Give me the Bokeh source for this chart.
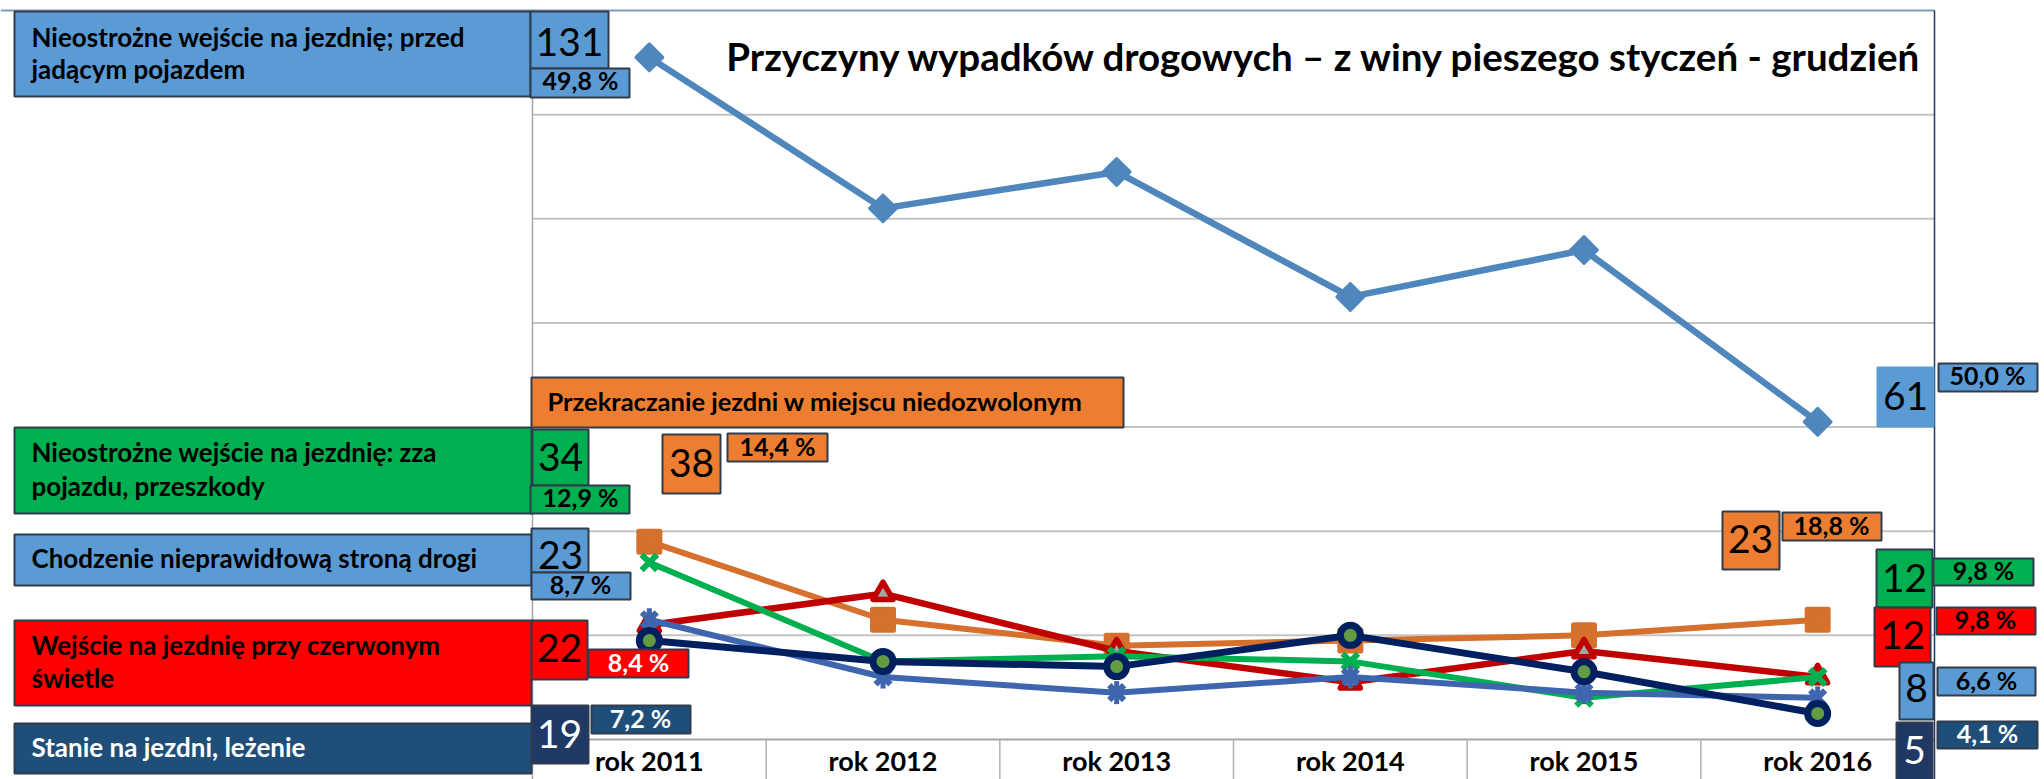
import numpy as np
from bokeh.plotting import figure
from bokeh.models import Range1d, ColumnDataSource
from bokeh.core.properties import value
from bokeh.embed import file_html
from bokeh.resources import INLINE

# ---------------- data ----------------
years = ["rok 2011", "rok 2012", "rok 2013", "rok 2014", "rok 2015", "rok 2016"]
przed_pojazdem = [131, 102, 109, 85, 94, 61]
niedozwolone = [38, 23, 18, 19, 20, 23]
zza_pojazdu = [34, 15, 16, 15, 8, 12]
zla_strona = [23, 12, 9, 12, 9, 8]
czerwone = [22, 28, 17, 11, 17, 12]
stanie = [19, 15, 14, 20, 13, 5]

share_2011 = ["49,8 %", "14,4 %", "12,9 %", "8,7 %", "8,4 %", "7,2 %"]
share_2016 = ["50,0 %", "18,8 %", "9,8 %", "6,6 %", "9,8 %", "4,1 %"]

names = [
    ["Nieostrożne wejście na jezdnię; przed", "jadącym  pojazdem"],
    ["Przekraczanie jezdni w miejscu niedozwolonym"],
    ["Nieostrożne wejście na jezdnię: zza", "pojazdu, przeszkody"],
    ["Chodzenie nieprawidłową stroną drogi"],
    ["Wejście na jezdnię przy czerwonym", "świetle"],
    ["Stanie na jezdni, leżenie"],
]
title_text = "Przyczyny wypadków drogowych – z winy pieszego styczeń - grudzień"
y_ticks = [0, 20, 40, 60, 80, 100, 120, 140]

# ---------------- geometry ----------------
W, H = 2044, 779
PL, PR, PT, PB = 532.0, 1934.0, 10.0, 739.0
YMAX = 140
CW = (PR - PL) / len(years)
KY = (PB - PT) / YMAX
BASE_SHIFT = 0.42   # renderer places the alphabetic baseline ~0.42em lower


def X(px):
    return (px - PL) / CW - 0.5


def Y(py):
    return (PB - py) / KY


def YB(baseline, size):
    return Y(baseline - BASE_SHIFT * size)


FONT = value("Lato")

p = figure(width=W, height=H, x_range=Range1d(X(0), X(W)), y_range=Range1d(Y(H), Y(0)),
           output_backend="svg", toolbar_location=None, min_border=0,
           x_axis_location=None, y_axis_location=None)
p.title.visible = False
p.xgrid.visible = False
p.ygrid.visible = False
p.outline_line_color = None
p.background_fill_color = "white"
p.border_fill_color = "white"

xs = list(range(len(years)))

# ---------------- grid / frame ----------------
grid_vals = [t for t in y_ticks if 0 < t < YMAX]
p.segment(x0=[X(PL)] * len(grid_vals), x1=[X(PR)] * len(grid_vals), y0=grid_vals, y1=grid_vals,
          line_color="#C4C4C4", line_width=2)
p.segment(x0=[X(PL)], x1=[X(PR)], y0=[0], y1=[0], line_color="#A6A6A6", line_width=2)
p.segment(x0=[X(0)], x1=[X(PR)], y0=[YMAX], y1=[YMAX], line_color="#7E9BBA", line_width=2)
seps = [i + 0.5 for i in range(len(years) - 1)]
p.segment(x0=seps, x1=seps, y0=[0] * len(seps), y1=[Y(H)] * len(seps), line_color="#B0B0B0", line_width=1.5)
p.segment(x0=[-0.5], x1=[-0.5], y0=[YMAX], y1=[Y(H)], line_color="#A6A6A6", line_width=1.5)
p.segment(x0=[len(years) - 0.5], x1=[len(years) - 0.5], y0=[YMAX], y1=[Y(H)], line_color="#1F3864", line_width=1.5)

# category labels
CAT_SIZE = 27
p.text(x=xs, y=[YB(771, CAT_SIZE)] * len(xs), text=years, text_font=FONT, text_font_style="bold",
       text_font_size="%dpx" % CAT_SIZE, text_color="#000000", text_align="center", text_baseline="alphabetic")

# ---------------- series ----------------
p.line(xs, przed_pojazdem, line_color="#4F87BD", line_width=6.5)
p.scatter(xs, przed_pojazdem, marker="square", angle=np.pi / 4, size=19, fill_color="#4F87BD",
          line_color="#4F87BD", line_width=3, line_join="round")

p.line(xs, niedozwolone, line_color="#D5702D", line_width=6)
p.scatter(xs, niedozwolone, marker="square", size=21, fill_color="#D5702D",
          line_color="#D5702D", line_width=5, line_join="round")

p.line(xs, czerwone, line_color="#C00000", line_width=6.5)
p.scatter(xs, czerwone, marker="triangle", size=20, fill_color="#A5A5A5",
          line_color="#C00000", line_width=5.5, line_join="round")

p.line(xs, zza_pojazdu, line_color="#00B050", line_width=6)
p.scatter(xs, zza_pojazdu, marker="x", size=22, line_color="#00B050", line_width=6)

p.line(xs, zla_strona, line_color="#3F65AE", line_width=6)
p.scatter(xs, zla_strona, marker="x", size=21, line_color="#3F65AE", line_width=6)
p.scatter(xs, zla_strona, marker="dash", angle=np.pi / 2, size=23, line_color="#3F65AE", line_width=5)

p.line(xs, stanie, line_color="#002060", line_width=7)
p.scatter(xs, stanie, marker="circle", size=20, fill_color="#629B41", line_color="#002060", line_width=7)

# ---------------- boxes ----------------
BLUE, ORANGE, GREEN, RED, NAVY, DNAVY = "#5B9BD5", "#ED7D31", "#00B050", "#FF0000", "#1F4E79", "#203864"
EDGE = "#303C4C"

# (left, top, right, bottom, fill, bordered) in page pixels
boxes = [
    (14, 11, 530, 96, BLUE, True),
    (530, 11, 608, 68, BLUE, True),
    (530, 68, 629, 97, BLUE, True),
    (531, 377, 1123, 427, ORANGE, True),
    (662, 434, 720, 493, ORANGE, True),
    (727, 433, 827, 461, ORANGE, True),
    (14, 427, 531, 513, GREEN, True),
    (532, 429, 588, 485, GREEN, True),
    (530, 485, 629, 513, GREEN, True),
    (14, 534, 531, 585, BLUE, True),
    (531, 528, 588, 572, BLUE, True),
    (531, 572, 630, 599, BLUE, True),
    (14, 620, 531, 705, RED, True),
    (531, 620, 587, 679, RED, True),
    (588, 649, 688, 677, RED, True),
    (14, 723, 531, 773, NAVY, True),
    (531, 705, 588, 763, DNAVY, True),
    (591, 705, 690, 733, NAVY, True),
    (1877, 367, 1933, 426, BLUE, False),
    (1938, 363, 2037, 391, BLUE, True),
    (1722, 511, 1779, 569, ORANGE, True),
    (1782, 512, 1881, 540, ORANGE, True),
    (1876, 549, 1932, 607, GREEN, True),
    (1933, 558, 2033, 585, GREEN, True),
    (1874, 607, 1930, 666, RED, True),
    (1936, 607, 2035, 634, RED, True),
    (1899, 662, 1933, 719, BLUE, True),
    (1937, 667, 2035, 695, BLUE, True),
    (1896, 722, 1932, 782, DNAVY, True),
    (1937, 721, 2037, 748, NAVY, True),
]
bsrc = ColumnDataSource(dict(
    left=[X(b[0]) for b in boxes], right=[X(b[2]) for b in boxes],
    top=[Y(b[1]) for b in boxes], bottom=[Y(b[3]) for b in boxes],
    fill=[b[4] for b in boxes],
    edge=[EDGE if b[5] else b[4] for b in boxes],
))
p.quad(left="left", right="right", top="top", bottom="bottom", fill_color="fill",
       line_color="edge", line_width=2, source=bsrc)

# ---------------- texts ----------------
series = [przed_pojazdem, niedozwolone, zza_pojazdu, zla_strona, czerwone, stanie]
first_num = [str(s[0]) for s in series]
last_num = [str(s[-1]) for s in series]

LBL, NUM, PCT, HDR = 26, 39, 25, 25.5

# (x, baseline y, text, size, bold, color, align)
texts = [
    (31, 47, names[0][0], LBL, True, "black", "left"),
    (31, 79, names[0][1], LBL, True, "black", "left"),
    (569, 58, first_num[0], NUM, False, "black", "center"),
    (580, 90, share_2011[0], PCT, True, "black", "center"),
    (547, 411, names[1][0], HDR, True, "black", "left"),
    (691, 479, first_num[1], NUM, False, "black", "center"),
    (777, 456, share_2011[1], PCT, True, "black", "center"),
    (31, 462, names[2][0], LBL, True, "black", "left"),
    (31, 496, names[2][1], LBL, True, "black", "left"),
    (560, 473, first_num[2], NUM, False, "black", "center"),
    (580, 507, share_2011[2], PCT, True, "black", "center"),
    (31, 568, names[3][0], LBL, True, "black", "left"),
    (560, 571, first_num[3], NUM, False, "black", "center"),
    (580, 594, share_2011[3], PCT, True, "black", "center"),
    (31, 655, names[4][0], LBL, True, "black", "left"),
    (31, 688, names[4][1], LBL, True, "black", "left"),
    (559, 664, first_num[4], NUM, False, "black", "center"),
    (638, 672, share_2011[4], PCT, True, "white", "center"),
    (31, 757, names[5][0], LBL, True, "white", "left"),
    (559, 750, first_num[5], NUM, False, "white", "center"),
    (640, 728, share_2011[5], PCT, True, "white", "center"),
    (1905, 412, last_num[0], NUM, False, "black", "center"),
    (1987, 385, share_2016[0], PCT, True, "black", "center"),
    (1750, 555, last_num[1], NUM, False, "black", "center"),
    (1831, 535, share_2016[1], PCT, True, "black", "center"),
    (1904, 594, last_num[2], NUM, False, "black", "center"),
    (1983, 580, share_2016[2], PCT, True, "black", "center"),
    (1902, 651, last_num[4], NUM, False, "black", "center"),
    (1985, 629, share_2016[4], PCT, True, "black", "center"),
    (1916, 704, last_num[3], NUM, False, "black", "center"),
    (1986, 690, share_2016[3], PCT, True, "black", "center"),
    (1914, 766, last_num[5], NUM, False, "white", "center"),
    (1987, 743, share_2016[5], PCT, True, "white", "center"),
]
for bold in (True, False):
    sel = [t for t in texts if t[4] == bold]
    src = ColumnDataSource(dict(
        x=[X(t[0]) for t in sel], y=[YB(t[1], t[3]) for t in sel], text=[t[2] for t in sel],
        size=["%gpx" % t[3] for t in sel], color=[t[5] for t in sel], align=[t[6] for t in sel],
    ))
    p.text(x="x", y="y", text="text", text_font_size="size", text_color="color", text_align="align",
           text_baseline="alphabetic", text_font=FONT, text_font_style="bold" if bold else "normal", source=src)

# title
TTL = 38.5
p.text(x=[X(1923)], y=[YB(72, TTL)], text=[title_text], text_font=FONT, text_font_style="bold",
       text_font_size="%gpx" % TTL, text_color="black", text_align="right", text_baseline="alphabetic")

open("out.html", "w").write(file_html(p, INLINE))
